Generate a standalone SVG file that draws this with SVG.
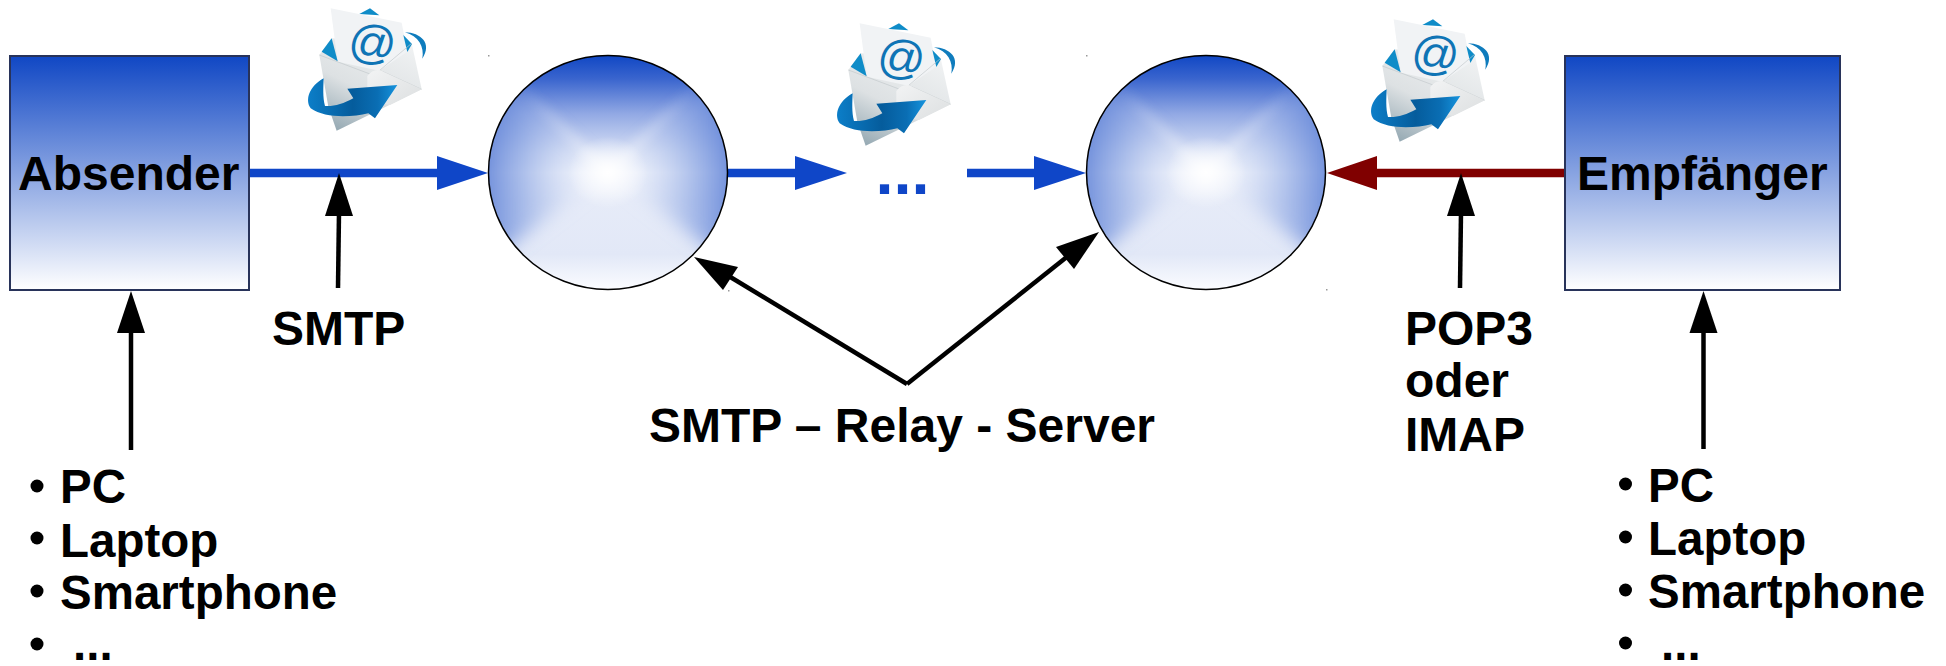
<svg xmlns="http://www.w3.org/2000/svg" width="1946" height="666" viewBox="0 0 1946 666">
<style>
text{font-family:"Liberation Sans",Arial,sans-serif;font-weight:700;fill:#000}
.t{font-size:48px}
.l{font-size:47.500px}
.box{fill:url(#gb);stroke:#28335a;stroke-width:2}
.blue{stroke:#0f46c8;stroke-width:8.500;fill:none}
.red{stroke:#800000;stroke-width:8.500;fill:none}
.blk{stroke:#000;stroke-width:4.500;fill:none}
.sp{fill:#999}
.ek{fill:#0f8cc8}
</style>
<defs>
<linearGradient id="gb" x1="0" y1="0" x2="0" y2="1"><stop offset="0" stop-color="#1047c4"/><stop offset="1" stop-color="#fff"/></linearGradient>
<linearGradient id="gv" x1="0" y1="0" x2="0" y2="1"><stop offset="0" stop-color="#1047c4"/><stop offset=".1" stop-color="#3a65ce"/><stop offset=".25" stop-color="#92a9e4"/><stop offset=".42" stop-color="#dbe3f6"/><stop offset=".5" stop-color="#f2f5fc"/><stop offset=".62" stop-color="#e6ebf8"/><stop offset=".85" stop-color="#e2e8f7"/><stop offset="1" stop-color="#fbfcff"/></linearGradient>
<linearGradient id="gh" x1="0" y1="0" x2="1" y2="0"><stop offset="0" stop-color="#3f69cf" stop-opacity=".9"/><stop offset=".2" stop-color="#7f9ce0" stop-opacity=".6"/><stop offset=".42" stop-color="#dfe6f7" stop-opacity=".25"/><stop offset=".5" stop-color="#fff" stop-opacity="0"/><stop offset=".58" stop-color="#dfe6f7" stop-opacity=".25"/><stop offset=".8" stop-color="#7f9ce0" stop-opacity=".6"/><stop offset="1" stop-color="#3f69cf" stop-opacity=".9"/></linearGradient>
<radialGradient id="gg"><stop offset="0" stop-color="#fff"/><stop offset=".3" stop-color="#fff" stop-opacity=".7"/><stop offset="1" stop-color="#fff" stop-opacity="0"/></radialGradient>
<filter id="bl" x="-30%" y="-30%" width="160%" height="160%"><feGaussianBlur stdDeviation="9"/></filter>
<filter id="bs" x="-30%" y="-30%" width="160%" height="160%"><feGaussianBlur stdDeviation="6"/></filter>
<clipPath id="cc"><ellipse cx="0" cy="0" rx="119.500" ry="117"/></clipPath>
<g id="sphere">
<g clip-path="url(#cc)">
<rect x="-120" y="-117" width="240" height="234" fill="url(#gv)"/>
<path d="M0 0 L-140 -120 L-140 105 Z M0 0 L140 -120 L140 105 Z" fill="url(#gh)" filter="url(#bl)"/>
<path d="M-92 -90 L0 -6 L92 -90 L6 2 L0 10 L-6 2 Z" fill="#fff" opacity=".4" filter="url(#bs)"/>
<ellipse rx="40" ry="36" fill="url(#gg)"/>
</g>
<ellipse cx="0" cy="0" rx="119.500" ry="117" fill="none" stroke="#000" stroke-width="1.500"/>
</g>
<linearGradient id="env" x1=".7" y1="0" x2=".15" y2="1"><stop offset="0" stop-color="#eff1f2"/><stop offset=".55" stop-color="#dde1e3"/><stop offset="1" stop-color="#94a8b2"/></linearGradient>
<linearGradient id="flap" x1="0" y1="0" x2="1" y2="1"><stop offset="0" stop-color="#f2f3f4"/><stop offset="1" stop-color="#dcdfe0"/></linearGradient>
<linearGradient id="arr" x1="0" y1="0" x2="1" y2="0"><stop offset="0" stop-color="#0c7ec8"/><stop offset=".5" stop-color="#055c9c"/><stop offset=".78" stop-color="#0a6eb4"/><stop offset="1" stop-color="#1694de"/></linearGradient>
<g id="mail">
<path d="M208 42 L240 25 L268 46 Z" class="ek"/>
<path d="M88 165 L125 115 L365 130 L395 268 L140 392 L115 320 Z" fill="url(#env)"/>
<path d="M122 25 L335 68 L352 155 L268 212 L143 185 Z" fill="#f1f3f5"/>
<path d="M95 155 L125 115 L143 184 Z" class="ek"/>
<path d="M340 105 L366 132 L352 156 Z" class="ek"/>
<path d="M88 165 L240 222 M272 212 L395 268 M365 130 L268 212" fill="none" stroke="#c3c9cc" stroke-width="2"/>
<path d="M232 228 C245 212 262 205 280 215 L395 268 L300 315 L232 300 Z" fill="url(#flap)"/>
<path d="M345 97 C392 98 428 130 397 176 C404 140 385 108 345 97 Z" fill="#0f7cbd"/>
<path d="M101 235 C58 258 44 300 62 325 C105 356 185 352 235 340 L255 355 L322 255 L172 266 L190 295 C160 312 130 320 105 318 C98 292 100 262 101 235 Z" fill="url(#arr)"/>
<text x="248" y="176" text-anchor="middle" transform="rotate(6 250 125)" style="font-size:142px;font-weight:400;fill:#0f74b5">@</text>
</g>
</defs>
<g id="connectors">
<line class="blue" x1="249" y1="173" x2="440" y2="173"/><polygon points="437,156 488,173 437,190" fill="#0f46c8"/>
<line class="blue" x1="728" y1="173" x2="800" y2="173"/><polygon points="795,156 847,173 795,190" fill="#0f46c8"/>
<line class="blue" x1="967" y1="173" x2="1040" y2="173"/><polygon points="1034,156 1086,173 1034,190" fill="#0f46c8"/>
<line class="red" x1="1565" y1="173" x2="1375" y2="173"/><polygon points="1377,156 1327,173 1377,190" fill="#800000"/>
<line class="blk" x1="338" y1="288" x2="339" y2="212"/><polygon points="325,216 353,216 339,173" fill="#000"/>
<line class="blk" x1="131" y1="450" x2="131" y2="330"/><polygon points="117,333 145,333 131,291" fill="#000"/>
<line class="blk" x1="1460" y1="288" x2="1461" y2="212"/><polygon points="1447,216 1475,216 1461,173" fill="#000"/>
<line class="blk" x1="1703.500" y1="449" x2="1703.500" y2="330"/><polygon points="1689.500,333 1717.500,333 1703.500,291" fill="#000"/>
<line class="blk" x1="907" y1="384" x2="727" y2="275"/><polygon points="694,257 738,267 723,290" fill="#000"/>
<line class="blk" x1="907" y1="384" x2="1068" y2="256"/><polygon points="1099,232 1056,247 1074,269" fill="#000"/>
</g>
<g id="absender"><rect class="box" x="10" y="56" width="239" height="234"/><text class="t" x="18" y="190">Absender</text></g>
<g id="empfaenger"><rect class="box" x="1565" y="56" width="275" height="234"/><text class="t" x="1577" y="190">Empfänger</text></g>
<g id="server1"><use href="#sphere" transform="translate(608 172.500)"/></g>
<g id="server2"><use href="#sphere" transform="translate(1206 172.500)"/></g>
<g id="specks"><rect class="sp" x="488" y="55" width="1.500" height="1.500"/><rect class="sp" x="1086" y="55" width="1.500" height="1.500"/><rect class="sp" x="728" y="290" width="1.500" height="1.500"/><rect class="sp" x="1326" y="289" width="1.500" height="1.500"/></g>
<g id="mail1"><use href="#mail" transform="translate(290 0) scale(.3333)"/></g>
<g id="mail2"><use href="#mail" transform="translate(819 15) scale(.3333)"/></g>
<g id="mail3"><use href="#mail" transform="translate(1353 11) scale(.3333)"/></g>
<g id="labels">
<text class="t" x="272" y="345">SMTP</text>
<text class="t" x="649" y="442">SMTP – Relay - Server</text>
<text class="t" x="1405" y="345">POP3</text>
<text class="t" x="1405" y="397">oder</text>
<text class="t" x="1405" y="451">IMAP</text>
<text x="875.500" y="194" style="font-size:65px;fill:#0f46c8">...</text>
</g>
<g id="list-left">
<circle cx="37" cy="486" r="6.500"/><text class="l" x="60" y="503">PC</text>
<circle cx="37" cy="538" r="6.500"/><text class="l" x="60" y="557">Laptop</text>
<circle cx="37" cy="591" r="6.500"/><text class="l" x="60" y="609">Smartphone</text>
<circle cx="37" cy="644" r="6.500"/><text class="l" x="73" y="660">...</text>
</g>
<g id="list-right">
<circle cx="1625.500" cy="484" r="6.500"/><text class="l" x="1648" y="502">PC</text>
<circle cx="1625.500" cy="537" r="6.500"/><text class="l" x="1648" y="555">Laptop</text>
<circle cx="1625.500" cy="590" r="6.500"/><text class="l" x="1648" y="608">Smartphone</text>
<circle cx="1625.500" cy="643" r="6.500"/><text class="l" x="1661" y="660">...</text>
</g>
</svg>
